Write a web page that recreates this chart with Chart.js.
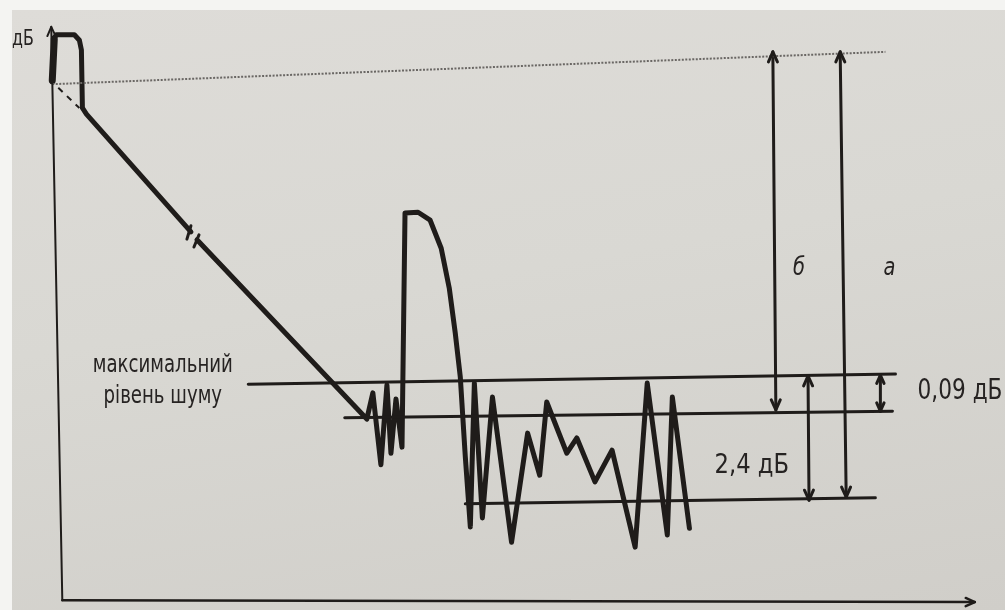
<!DOCTYPE html>
<html>
<head>
<meta charset="utf-8">
<script src="https://cdn.jsdelivr.net/npm/chart.js@4"></script>
<style>
  html, body { margin: 0; padding: 0; background: #f4f4f2; }
  #paper {
    position: absolute; left: 12px; top: 10px; width: 993px; height: 600px;
    background: linear-gradient(170deg, #dedcd8 0%, #d9d8d3 45%, #d0cec9 100%);
  }
  #wrap { position: absolute; left: 0; top: 0; width: 1005px; height: 610px; }
</style>
</head>
<body>
<div id="paper"></div>
<div id="wrap"><canvas id="reflectogram" width="1005" height="610"></canvas></div>
<script>
// рефлектограма: відстань (умовні одиниці) і рівень (умовні одиниці)
var traceX = [5.2, 5.4, 5.6, 7.4, 7.9, 8.1, 8.2, 8.6, 19.0, 19.3, 19.6, 36.5,
  37.1, 37.9, 38.5, 38.9, 39.4, 40.0, 40.3, 41.6, 42.8, 43.9, 44.7, 45.3, 45.8,
  46.3, 46.8, 47.2, 48.0, 49.0, 50.9, 52.5, 53.7, 54.4, 56.4, 57.4, 59.2, 60.9,
  63.2, 64.4, 66.4, 66.9, 68.6];
var traceY = [86.6, 93.8, 94.3, 94.3, 93.4, 91.8, 82.3, 81.3, 62.0, null, 60.7, 31.3,
  35.6, 23.8, 36.9, 25.7, 34.6, 26.7, 65.1, 65.2, 63.9, 59.3, 52.8, 45.4, 38.2,
  25.1, 13.6, 37.2, 15.1, 34.9, 11.1, 29.0, 22.1, 34.1, 25.7, 28.2, 21.0, 26.2,
  10.3, 37.2, 12.3, 34.9, 13.4];

// потовщений передній фронт імпульсу
var frontX = [5.2, 5.4];
var frontY = [86.8, 93.6];

// рівні
var refLineX = [5.2, 88.1];      // рівень початку (пунктир)
var refLineY = [86.2, 91.5];
var tangentX = [5.8, 7.9];       // продовження нахилу (штрихи)
var tangentY = [85.6, 82.3];
var noiseMaxX = [24.7, 89.1];    // максимальний рівень шуму
var noiseMaxY = [37.0, 38.7];
var noiseMidX = [34.3, 88.8];
var noiseMidY = [31.5, 32.6];
var noiseLowX = [46.3, 87.1];
var noiseLowY = [17.4, 18.4];

// розриви лінії
var breakAX = [19.0, 18.6];
var breakAY = [63.0, 60.8];
var breakBX = [19.8, 19.3];
var breakBY = [61.5, 59.5];

// розмірні стрілки
var arrowBX = [76.9, 77.2];
var arrowBY = [91.5, 32.8];
var arrowAX = [83.6, 84.2];
var arrowAY = [91.5, 18.5];
var arrow24X = [80.4, 80.5];
var arrow24Y = [38.4, 18.0];
var arrow009X = [87.6, 87.6];
var arrow009Y = [38.5, 32.6];

// осі
var yAxisX = [6.2, 5.1];
var yAxisY = [1.6, 95.6];
var xAxisX = [6.2, 97.0];
var xAxisY = [1.6, 1.3];

var ink = '#1f1c1a';

function pts(xs, ys) {
  return xs.map(function(x, i) { return { x: x, y: ys[i] }; });
}

function line(xs, ys, width, extra) {
  var ds = {
    data: pts(xs, ys),
    showLine: true,
    borderColor: ink,
    borderWidth: width,
    pointRadius: 0,
    tension: 0,
    spanGaps: false,
    borderJoinStyle: 'round',
    borderCapStyle: 'round',
    clip: false
  };
  for (var k in extra) ds[k] = extra[k];
  return ds;
}

var labels = [
  { text: 'дБ', x: 1.2, y: 92.6, size: 22, squeeze: 0.8, align: 'left' },
  { text: 'максимальний', x: 16.2, y: 39.0, size: 24, squeeze: 0.84, align: 'center' },
  { text: 'рівень шуму', x: 16.2, y: 33.9, size: 24, squeeze: 0.84, align: 'center' },
  { text: 'б', x: 79.5, y: 55.0, size: 24, squeeze: 0.9, align: 'center', italic: true },
  { text: 'а', x: 88.5, y: 55.0, size: 24, squeeze: 0.9, align: 'center', italic: true },
  { text: '0,09 дБ', x: 91.3, y: 34.6, size: 29, squeeze: 0.83, align: 'left' },
  { text: '2,4 дБ', x: 71.1, y: 22.5, size: 26, squeeze: 0.97, align: 'left' }
];

// наконечники стрілок і підписи
var overlay = {
  id: 'overlay',
  afterDatasetsDraw: function(chart) {
    var ctx = chart.ctx;
    var sx = chart.scales.x, sy = chart.scales.y;
    ctx.save();
    ctx.strokeStyle = ink;
    ctx.lineCap = 'round';
    ctx.lineJoin = 'round';
    chart.data.datasets.forEach(function(ds) {
      if (!ds.heads) return;
      var p = ds.data;
      ds.heads.forEach(function(h) {
        var a = h === 'end' ? p[p.length - 1] : p[0];
        var b = h === 'end' ? p[p.length - 2] : p[1];
        var ax = sx.getPixelForValue(a.x), ay = sy.getPixelForValue(a.y);
        var bx = sx.getPixelForValue(b.x), by = sy.getPixelForValue(b.y);
        var ang = Math.atan2(ay - by, ax - bx);
        var len = ds.headLen || 11, spread = 0.42;
        ctx.lineWidth = ds.borderWidth;
        ctx.beginPath();
        ctx.moveTo(ax - len * Math.cos(ang - spread), ay - len * Math.sin(ang - spread));
        ctx.lineTo(ax, ay);
        ctx.lineTo(ax - len * Math.cos(ang + spread), ay - len * Math.sin(ang + spread));
        ctx.stroke();
      });
    });
    ctx.fillStyle = '#262322';
    ctx.textBaseline = 'alphabetic';
    labels.forEach(function(l) {
      ctx.save();
      ctx.font = (l.italic ? 'italic ' : '') + l.size + "px 'DejaVu Sans Condensed', 'DejaVu Sans', sans-serif";
      ctx.textAlign = l.align;
      ctx.translate(sx.getPixelForValue(l.x), sy.getPixelForValue(l.y));
      ctx.scale(l.squeeze, 1);
      ctx.fillText(l.text, 0, 0);
      ctx.restore();
    });
    ctx.restore();
  }
};

new Chart(document.getElementById('reflectogram').getContext('2d'), {
  type: 'scatter',
  data: {
    datasets: [
      line(yAxisX, yAxisY, 2, { heads: ['end'], headLen: 10 }),
      line(xAxisX, xAxisY, 2.5, { heads: ['end'], headLen: 10 }),
      line(refLineX, refLineY, 2, { borderColor: '#6a6764', borderDash: [2, 1.5], borderCapStyle: 'butt' }),
      line(tangentX, tangentY, 2, { borderDash: [6, 6], borderCapStyle: 'butt' }),
      line(noiseMaxX, noiseMaxY, 3),
      line(noiseMidX, noiseMidY, 3),
      line(noiseLowX, noiseLowY, 3),
      line(arrowBX, arrowBY, 3, { heads: ['start', 'end'] }),
      line(arrowAX, arrowAY, 3, { heads: ['start', 'end'] }),
      line(arrow24X, arrow24Y, 3, { heads: ['start', 'end'] }),
      line(arrow009X, arrow009Y, 3, { heads: ['start', 'end'], headLen: 9 }),
      line(breakAX, breakAY, 3),
      line(breakBX, breakBY, 3),
      line(frontX, frontY, 7),
      line(traceX, traceY, 5)
    ]
  },
  options: {
    responsive: false,
    animation: false,
    events: [],
    layout: { padding: 0 },
    plugins: { legend: { display: false }, tooltip: { enabled: false } },
    scales: {
      x: { type: 'linear', min: 0, max: 100, display: false },
      y: { type: 'linear', min: 0, max: 100, display: false }
    }
  },
  plugins: [overlay]
});
</script>
</body>
</html>
